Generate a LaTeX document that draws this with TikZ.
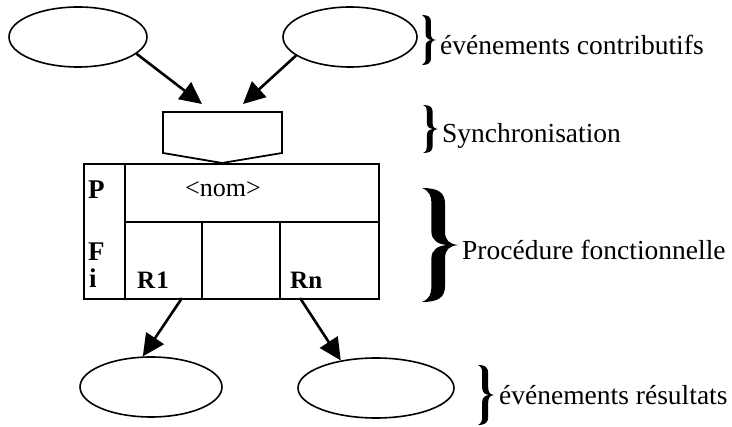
\documentclass[tikz,border=0pt]{standalone}
\usepackage{fontspec}
\setmainfont{Liberation Serif}
\usetikzlibrary{arrows.meta,shapes.geometric}
\begin{document}
\begin{tikzpicture}[x=1pt,y=-1pt,
  evt/.style={draw,ellipse,line width=1.6pt,inner sep=0pt},
  flow/.style={line width=2.6pt,-{Triangle[length=22pt,width=21pt]}},
  frame/.style={line width=1.8pt},
  lbl/.style={anchor=base west,inner sep=0pt,font=\fontsize{27.5}{30}\selectfont},
  cell/.style={anchor=base west,inner sep=0pt,font=\fontsize{27}{30}\selectfont\bfseries},
  res/.style={anchor=base west,inner sep=0pt,font=\fontsize{25}{28}\selectfont\bfseries},
  curlybrace/.pic={
    \fill (0,0)
      .. controls (0.45,0.0) and (0.64,0.04) .. (0.64,0.14)
      -- (0.64,0.38)
      .. controls (0.64,0.46) and (0.75,0.49) .. (1,0.5)
      .. controls (0.75,0.51) and (0.64,0.54) .. (0.64,0.62)
      -- (0.64,0.86)
      .. controls (0.64,0.96) and (0.45,1) .. (0,1)
      .. controls (0.22,0.97) and (0.26,0.93) .. (0.26,0.86)
      -- (0.26,0.62)
      .. controls (0.26,0.54) and (0.45,0.505) .. (0.7,0.5)
      .. controls (0.45,0.495) and (0.26,0.46) .. (0.26,0.38)
      -- (0.26,0.14)
      .. controls (0.26,0.07) and (0.22,0.03) .. (0,0) -- cycle;
  }]
\useasboundingbox (0,0) rectangle (732,427);

% contributing events
\node[evt,minimum width=138pt,minimum height=60pt] (e1) at (78,37) {};
\node[evt,minimum width=134pt,minimum height=60pt] (e2) at (350,37) {};

% synchronisation block
\draw[frame] (163,112) -- (282,112) -- (282,153) -- (222,163) -- (163,153) -- cycle;
\coordinate (t1) at (202,104);
\coordinate (t2) at (243,104);

% functional procedure block
\node[draw,frame,minimum width=295pt,minimum height=135pt,anchor=north west,inner sep=0pt] (proc) at (83,163) {};
\draw[frame] (125,163) -- (125,298);
\draw[frame] (125,222) -- (378,222);
\draw[frame] (202,222) -- (202,298);
\draw[frame] (280,222) -- (280,298);
\node[cell] (p) at (88,199) {P};
\node[cell] (f) at (88,261) {F};
\node[cell] (i) at (89,288) {i};
\node[anchor=base,inner sep=0pt,font=\fontsize{26}{28}\selectfont] (nom) at (223,197) {<nom>};
\node[res] (r1) at (137,289) {R\kern1pt 1};
\node[res] (rn) at (290,289) {Rn};
\coordinate (b1) at (182,298);
\coordinate (b2) at (300,298);

% resulting events
\node[evt,minimum width=142pt,minimum height=60pt] (e3) at (151,387) {};
\node[evt,minimum width=156pt,minimum height=60pt] (e4) at (376,388) {};

% connectors
\draw[flow] (e1.-16) -- (t1);
\draw[flow] (e2.199) -- (t2);
\draw[flow] (b1) -- (e3.105);
\draw[flow] (b2) -- (e4.142);

% braces and captions
\pic[shift={(422,15)},xscale=14,yscale=50] {curlybrace};
\node[lbl] (l1) at (440,55) {événements contributifs};
\pic[shift={(423,105)},xscale=15,yscale=48] {curlybrace};
\node[lbl] (l2) at (442,143) {Synchronisation};
\pic[shift={(422,188)},xscale=36,yscale=114] {curlybrace};
\node[lbl] (l3) at (462,260) {Procédure fonctionnelle};
\pic[shift={(478,365)},xscale=16,yscale=60] {curlybrace};
\node[lbl] (l4) at (499,405) {événements résultats};
\end{tikzpicture}
\end{document}
